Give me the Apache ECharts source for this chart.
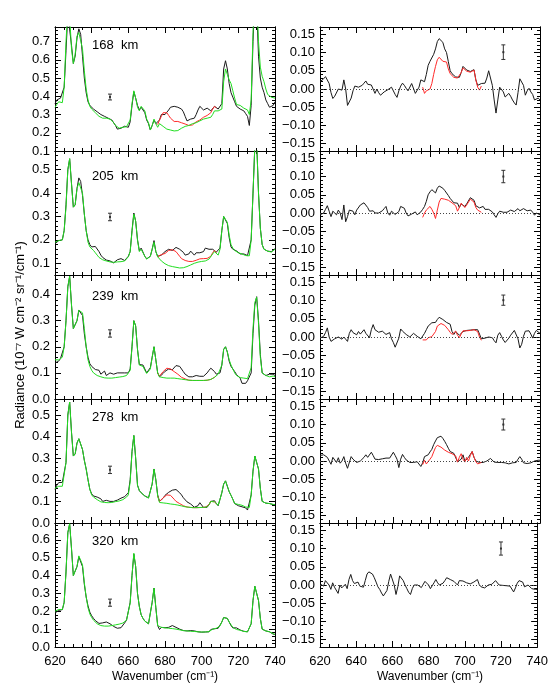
<!DOCTYPE html>
<html><head><meta charset="utf-8">
<script src="https://cdn.jsdelivr.net/npm/echarts@6/dist/echarts.min.js"></script>
<style>html,body{margin:0;padding:0;background:#fff}#c{width:551px;height:689px}</style>
</head><body><div id="c"></div>
<script>
// ---------------- DATA ----------------
const WN_START = 620;   // wavenumber of first sample, 1 cm-1 step
const RED_START = 676;  // first wavenumber of the model (red) curves
const altitudes = ['168  km', '205  km', '239  km', '278  km', '320  km'];
const xTicks = [620, 640, 660, 680, 700, 720, 740];
const leftTicks = [
  [0.1, 0.2, 0.3, 0.4, 0.5, 0.6, 0.7],
  [0.1, 0.2, 0.3, 0.4, 0.5],
  [0.0, 0.1, 0.2, 0.3, 0.4],
  [0.0, 0.1, 0.2, 0.3, 0.4, 0.5],
  [0.0, 0.1, 0.2, 0.3, 0.4, 0.5, 0.6]
];
const leftRanges = [[0.1, 0.78], [0.05, 0.58], [0.0, 0.475], [0.0, 0.574], [0.0, 0.694]];
const rightTicks = [-0.15, -0.10, -0.05, 0.00, 0.05, 0.10, 0.15];
const rightRange = [-0.17, 0.17];
// error bars: [wavenumber, centre, half-length]
const errLeft = [[650, 0.396, 0.016], [650, 0.298, 0.016], [650, 0.251, 0.014], [650, 0.246, 0.017], [650, 0.248, 0.02]];
const errRight = [[720, 0.101, 0.02], [720, 0.100, 0.017], [720, 0.101, 0.014], [720, 0.100, 0.015], [720, 0.100, 0.018]];

// ---- 168 km ----
const black168 = [0.36,0.38,0.39,0.39,0.39,0.45,0.65,0.85,0.86,0.68,0.58,0.62,0.72,0.77,0.74,0.62,0.50,0.42,0.37,0.35,
0.34,0.33,0.32,0.315,0.31,0.30,0.29,0.29,0.285,0.28,0.28,0.27,0.26,0.24,0.22,0.215,0.225,0.235,0.236,0.233,
0.23,0.26,0.35,0.425,0.39,0.35,0.325,0.34,0.35,0.31,0.27,0.25,0.215,0.24,0.27,0.25,0.245,0.27,0.30,0.305,
0.30,0.31,0.325,0.34,0.345,0.345,0.345,0.34,0.335,0.33,0.315,0.29,0.265,0.265,0.275,0.28,0.28,0.30,0.325,0.345,
0.335,0.325,0.33,0.335,0.325,0.32,0.33,0.345,0.335,0.33,0.33,0.36,0.55,0.595,0.55,0.47,0.42,0.395,0.37,0.345,
0.335,0.33,0.33,0.32,0.305,0.29,0.24,0.35,0.70,0.95,0.90,0.62,0.50,0.45,0.42,0.38,0.36,0.34,0.33,0.35,0.37];
const green168 = [0.34,0.355,0.37,0.365,0.365,0.45,0.70,0.88,0.84,0.66,0.58,0.63,0.73,0.75,0.74,0.66,0.54,0.44,0.38,0.345,
0.33,0.32,0.31,0.305,0.29,0.28,0.28,0.28,0.28,0.275,0.275,0.265,0.255,0.24,0.23,0.225,0.225,0.23,0.236,0.233,
0.235,0.27,0.36,0.43,0.39,0.34,0.32,0.345,0.355,0.32,0.275,0.255,0.215,0.24,0.275,0.25,0.23,0.25,0.255,0.235,
0.225,0.22,0.215,0.215,0.213,0.21,0.21,0.212,0.215,0.225,0.233,0.235,0.235,0.24,0.245,0.25,0.255,0.255,0.26,0.265,
0.27,0.275,0.28,0.28,0.275,0.285,0.30,0.32,0.33,0.32,0.315,0.33,0.48,0.55,0.52,0.49,0.47,0.43,0.39,0.355,
0.35,0.35,0.345,0.335,0.33,0.325,0.30,0.38,0.75,1.0,0.95,0.70,0.56,0.51,0.48,0.44,0.41,0.40,0.395,0.39,0.39];
const red168 = [0.245,0.27,0.29,0.31,0.305,0.31,0.295,0.28,0.27,0.262,0.26,0.262,0.262,0.255,0.25,0.248,0.245,0.24,0.24,0.243,
0.245,0.26,0.265,0.27,0.28,0.285,0.29,0.295,0.30,0.31,0.33,0.345,0.335];
const resid168 = [0.02,0.022,0.028,0.034,0.03,0.015,-0.01,-0.026,-0.02,-0.015,0.0,0.0,-0.003,0.025,0.0,-0.045,-0.05,-0.025,-0.005,0.008,
0.011,0.005,0.008,0.01,0.016,0.022,0.013,0.01,0.011,0.01,-0.012,0.0,-0.01,-0.017,-0.012,-0.008,-0.005,-0.002,0.0,0.005,
0.0,-0.015,-0.023,-0.005,0.008,0.016,0.01,0.002,-0.005,-0.008,0.015,0.02,-0.012,-0.01,0.005,0.025,0.027,0.02,0.04,0.065,
0.076,0.08,0.095,0.11,0.13,0.138,0.14,0.128,0.11,0.10,0.075,0.05,0.042,0.038,0.033,0.032,0.032,0.045,0.062,0.057,
0.052,0.05,0.048,0.052,0.053,0.025,0.01,0.013,0.015,0.016,0.016,0.03,0.05,0.045,0.01,-0.03,-0.066,-0.03,0.005,0.01,
-0.008,-0.022,-0.02,-0.012,-0.02,-0.03,-0.038,-0.044,-0.01,0.028,0.025,0.01,-0.017,-0.005,0.002,-0.008,-0.015,-0.03,-0.025,-0.025,-0.03];
const residRed168 = [0.005,-0.012,-0.005,-0.008,0.0,0.015,0.04,0.062,0.08,0.087,0.085,0.076,0.076,0.074,0.055,0.042,0.037,0.032,0.03,0.03,
0.032,0.045,0.058,0.053,0.049,0.047,0.046,0.05,0.052,0.025,0.005,-0.003,0.008];

// ---- 205 km ----
const black205 = [0.183,0.19,0.197,0.20,0.20,0.24,0.35,0.50,0.547,0.44,0.34,0.35,0.42,0.465,0.45,0.39,0.31,0.24,0.20,0.18,
0.17,0.172,0.172,0.165,0.15,0.135,0.125,0.118,0.114,0.112,0.11,0.108,0.102,0.105,0.115,0.118,0.12,0.115,0.112,0.12,
0.13,0.15,0.24,0.315,0.28,0.20,0.154,0.165,0.165,0.13,0.119,0.119,0.13,0.16,0.197,0.15,0.13,0.122,0.135,0.142,
0.15,0.155,0.16,0.16,0.155,0.162,0.168,0.165,0.16,0.155,0.147,0.135,0.133,0.14,0.152,0.148,0.135,0.145,0.152,0.145,
0.142,0.15,0.165,0.17,0.16,0.155,0.16,0.16,0.148,0.14,0.165,0.24,0.30,0.305,0.27,0.21,0.17,0.16,0.155,0.153,
0.145,0.14,0.142,0.14,0.135,0.133,0.135,0.20,0.40,0.60,0.62,0.40,0.25,0.18,0.16,0.155,0.152,0.15,0.15,0.155,0.162];
const green205 = [0.19,0.195,0.197,0.20,0.20,0.24,0.34,0.50,0.547,0.44,0.34,0.35,0.42,0.445,0.445,0.40,0.31,0.24,0.19,0.17,
0.165,0.155,0.145,0.135,0.125,0.118,0.115,0.112,0.11,0.108,0.106,0.105,0.104,0.105,0.106,0.105,0.107,0.108,0.11,0.118,
0.128,0.15,0.235,0.31,0.28,0.20,0.15,0.16,0.16,0.13,0.118,0.116,0.13,0.16,0.19,0.15,0.128,0.12,0.11,0.104,
0.098,0.094,0.09,0.088,0.086,0.085,0.083,0.081,0.08,0.08,0.081,0.083,0.086,0.09,0.093,0.096,0.10,0.103,0.105,0.107,
0.108,0.109,0.11,0.113,0.118,0.125,0.14,0.15,0.145,0.135,0.16,0.24,0.30,0.305,0.275,0.22,0.18,0.165,0.155,0.15,
0.145,0.14,0.14,0.135,0.133,0.13,0.132,0.20,0.40,0.60,0.62,0.40,0.25,0.18,0.16,0.155,0.152,0.15,0.148,0.152,0.16];
const red205 = [0.128,0.13,0.137,0.135,0.142,0.148,0.155,0.16,0.158,0.155,0.15,0.14,0.13,0.12,0.115,0.112,0.11,0.108,0.105,0.108,
0.11,0.113,0.117,0.119,0.12,0.12,0.12,0.121,0.123,0.13,0.145,0.155,0.145];
const resid205 = [-0.005,-0.005,0.0,0.01,0.02,0.005,-0.01,0.005,0.0,-0.005,0.008,0.0,-0.018,0.022,-0.024,-0.01,0.008,0.013,0.005,-0.005,
0.008,0.013,0.022,0.025,0.028,0.032,0.015,0.005,0.007,0.006,0.0,-0.001,0.0,0.0,0.006,0.012,0.018,0.0,-0.006,0.005,
0.008,-0.004,0.0,0.004,0.018,0.016,0.013,0.0,-0.008,-0.012,-0.003,0.002,0.003,-0.005,-0.006,0.003,0.01,0.018,0.032,0.05,
0.058,0.064,0.06,0.055,0.068,0.074,0.075,0.068,0.062,0.057,0.048,0.04,0.036,0.028,0.027,0.027,0.015,0.025,0.03,0.018,
0.025,0.03,0.042,0.04,0.035,0.02,0.016,0.014,0.015,0.018,0.01,0.008,0.01,0.006,0.003,-0.005,-0.012,-0.002,0.005,0.008,
0.002,-0.002,0.002,0.004,0.008,0.006,0.004,0.008,0.012,0.006,0.004,0.012,0.01,0.006,0.007,0.008,0.002,-0.006,0.0,0.004,-0.005];
const residRed205 = [-0.012,0.0,0.008,0.012,0.018,0.01,0.0,-0.015,0.008,0.03,0.04,0.037,0.038,0.04,0.035,0.032,0.028,0.025,0.02,0.005,
0.015,0.027,0.025,0.015,0.022,0.03,0.038,0.036,0.03,0.015,0.008,0.004,0.002];

// ---- 239 km ----
const black239 = [0.138,0.14,0.145,0.155,0.162,0.20,0.30,0.43,0.47,0.36,0.27,0.27,0.30,0.34,0.344,0.32,0.25,0.20,0.16,0.135,
0.125,0.119,0.113,0.115,0.11,0.095,0.10,0.107,0.09,0.095,0.10,0.098,0.095,0.096,0.10,0.099,0.10,0.10,0.10,0.098,
0.10,0.115,0.20,0.30,0.28,0.19,0.132,0.132,0.13,0.115,0.10,0.10,0.12,0.16,0.20,0.15,0.10,0.085,0.09,0.098,
0.106,0.11,0.115,0.12,0.112,0.115,0.128,0.132,0.125,0.119,0.105,0.095,0.09,0.085,0.08,0.085,0.087,0.09,0.09,0.087,
0.085,0.087,0.09,0.10,0.11,0.118,0.123,0.105,0.095,0.094,0.10,0.13,0.19,0.20,0.18,0.145,0.125,0.115,0.105,0.094,
0.09,0.08,0.06,0.058,0.06,0.07,0.065,0.10,0.25,0.36,0.392,0.30,0.17,0.10,0.093,0.09,0.09,0.095,0.10,0.095,0.09];
const green239 = [0.15,0.15,0.15,0.155,0.16,0.20,0.30,0.43,0.47,0.36,0.27,0.27,0.30,0.34,0.345,0.33,0.27,0.20,0.15,0.125,
0.11,0.10,0.095,0.09,0.087,0.085,0.083,0.081,0.08,0.08,0.08,0.08,0.081,0.082,0.083,0.084,0.085,0.086,0.088,0.09,
0.095,0.11,0.20,0.30,0.28,0.19,0.13,0.13,0.125,0.11,0.098,0.097,0.115,0.16,0.20,0.15,0.10,0.085,0.083,0.082,
0.081,0.08,0.08,0.08,0.08,0.08,0.079,0.078,0.077,0.076,0.075,0.074,0.073,0.072,0.072,0.071,0.071,0.071,0.071,0.071,
0.071,0.071,0.072,0.072,0.073,0.075,0.078,0.083,0.09,0.095,0.10,0.13,0.19,0.20,0.18,0.15,0.13,0.115,0.10,0.09,
0.085,0.082,0.08,0.08,0.078,0.078,0.08,0.12,0.27,0.37,0.39,0.29,0.16,0.10,0.093,0.09,0.085,0.085,0.09,0.088,0.085];
const red239 = [0.10,0.088,0.095,0.105,0.112,0.118,0.118,0.115,0.11,0.105,0.10,0.095,0.088,0.083,0.08,0.077,0.074,0.072,0.072,0.071,
0.071,0.071,0.071,0.071,0.071,0.071,0.072,0.072,0.073,0.075,0.078,0.083,0.09];
const resid239 = [-0.003,-0.003,0.002,0.012,0.025,0.0,-0.012,-0.015,-0.005,0.0,0.0,-0.004,-0.006,0.0,-0.006,-0.012,0.01,0.02,0.012,0.008,
0.006,0.015,0.008,0.012,0.02,0.01,0.005,-0.002,0.02,0.034,0.02,0.015,0.013,0.015,0.016,0.012,0.007,0.01,0.012,-0.005,
-0.015,-0.028,-0.025,-0.003,0.022,0.016,0.012,0.007,0.003,0.0,0.004,0.01,0.01,0.002,-0.002,-0.005,0.0,0.01,0.02,0.03,
0.035,0.039,0.039,0.04,0.048,0.054,0.056,0.048,0.043,0.04,0.039,0.035,0.015,0.007,0.015,0.018,0.005,0.0,0.015,0.019,
0.018,0.018,0.019,0.02,0.02,0.016,0.02,0.008,-0.005,-0.008,-0.003,-0.003,0.0,0.002,-0.002,-0.01,-0.016,0.005,0.012,0.002,
-0.008,-0.015,-0.015,-0.003,0.005,0.01,0.018,0.015,-0.005,-0.03,-0.02,0.002,0.016,0.02,0.017,0.008,-0.003,0.01,0.018,0.015,0.01];
const residRed239 = [-0.008,-0.012,-0.008,-0.002,0.0,0.001,0.002,0.015,0.03,0.035,0.037,0.034,0.032,0.028,0.02,0.013,0.007,0.012,0.016,0.005,
-0.002,0.008,0.017,0.018,0.017,0.017,0.018,0.02,0.02,0.016,0.015,0.0,-0.009];

// ---- 278 km ----
const black278 = [0.156,0.175,0.187,0.19,0.188,0.18,0.28,0.50,0.56,0.42,0.31,0.32,0.37,0.39,0.385,0.34,0.29,0.25,0.20,0.156,
0.135,0.125,0.125,0.12,0.115,0.112,0.10,0.10,0.105,0.109,0.10,0.097,0.10,0.102,0.106,0.11,0.115,0.12,0.122,0.13,
0.14,0.20,0.33,0.405,0.30,0.175,0.15,0.14,0.133,0.125,0.12,0.117,0.11,0.18,0.25,0.20,0.13,0.10,0.105,0.115,
0.128,0.135,0.142,0.148,0.152,0.156,0.155,0.148,0.14,0.13,0.117,0.108,0.098,0.092,0.088,0.082,0.073,0.072,0.08,0.094,
0.085,0.072,0.075,0.073,0.085,0.10,0.106,0.103,0.09,0.08,0.11,0.14,0.18,0.195,0.17,0.145,0.128,0.11,0.09,0.083,
0.08,0.077,0.075,0.072,0.07,0.06,0.065,0.13,0.24,0.31,0.315,0.25,0.16,0.10,0.093,0.092,0.092,0.09,0.088,0.085,0.085];
const green278 = [0.16,0.165,0.17,0.172,0.17,0.175,0.28,0.50,0.56,0.42,0.31,0.32,0.37,0.39,0.385,0.34,0.29,0.25,0.20,0.155,
0.13,0.12,0.115,0.108,0.102,0.098,0.096,0.095,0.094,0.094,0.094,0.095,0.097,0.099,0.10,0.102,0.105,0.108,0.112,0.12,
0.13,0.19,0.33,0.405,0.30,0.175,0.15,0.14,0.133,0.125,0.12,0.115,0.11,0.18,0.25,0.20,0.125,0.095,0.094,0.093,
0.092,0.091,0.09,0.088,0.087,0.086,0.085,0.083,0.081,0.079,0.077,0.075,0.074,0.073,0.072,0.071,0.071,0.071,0.071,0.072,
0.072,0.072,0.073,0.075,0.085,0.10,0.103,0.098,0.09,0.082,0.11,0.14,0.18,0.195,0.17,0.145,0.128,0.11,0.09,0.088,
0.086,0.086,0.082,0.078,0.074,0.071,0.072,0.13,0.24,0.31,0.315,0.25,0.16,0.10,0.093,0.092,0.092,0.09,0.088,0.086,0.085];
const red278 = [0.125,0.10,0.108,0.117,0.125,0.13,0.133,0.128,0.12,0.11,0.10,0.095,0.09,0.085,0.08,0.076,0.074,0.073,0.072,0.071,
0.071,0.071,0.071,0.072,0.072,0.072,0.073,0.075,0.085,0.10,0.103,0.098,0.09];
const resid278 = [0.015,0.017,0.017,0.015,0.01,0.005,-0.009,0.01,0.012,-0.004,0.009,-0.006,0.0,0.012,-0.006,-0.02,-0.015,0.012,0.005,0.0,
-0.004,-0.004,0.0,0.003,0.01,0.017,0.01,0.008,0.024,0.015,0.005,0.002,0.004,0.006,0.006,0.007,0.008,0.012,0.008,0.01,
0.024,0.015,0.005,-0.018,0.005,0.018,0.01,0.003,0.0,-0.004,-0.004,-0.004,0.0,-0.002,-0.004,-0.015,-0.005,0.012,0.015,0.017,
0.025,0.032,0.045,0.055,0.064,0.069,0.068,0.062,0.054,0.045,0.035,0.026,0.022,0.021,0.02,-0.002,-0.006,0.005,0.017,0.0,
0.004,0.01,0.018,0.026,0.01,0.0,-0.004,-0.004,-0.004,-0.004,-0.001,0.0,0.004,0.007,0.002,-0.003,-0.006,-0.004,-0.003,-0.004,
-0.004,-0.005,-0.006,-0.008,-0.011,-0.005,0.0,-0.004,0.005,0.012,0.005,-0.005,-0.006,-0.007,-0.007,-0.005,-0.004,0.0,0.0,0.002,0.002];
const residRed278 = [-0.01,0.002,-0.008,-0.011,0.005,0.012,0.025,0.037,0.043,0.041,0.038,0.033,0.03,0.027,0.024,0.022,0.02,0.018,0.014,-0.003,
0.01,0.02,0.005,-0.003,0.01,0.0,0.015,0.026,0.01,-0.002,-0.008,-0.009,-0.004];

// ---- 320 km ----
const black320 = [0.19,0.20,0.205,0.208,0.209,0.25,0.42,0.64,0.69,0.55,0.40,0.39,0.45,0.505,0.50,0.45,0.35,0.28,0.23,0.195,
0.175,0.16,0.148,0.138,0.132,0.128,0.135,0.139,0.14,0.14,0.13,0.12,0.115,0.11,0.105,0.103,0.108,0.118,0.135,0.15,
0.16,0.25,0.40,0.52,0.45,0.30,0.228,0.18,0.16,0.145,0.135,0.13,0.14,0.25,0.33,0.22,0.12,0.098,0.11,0.11,
0.108,0.108,0.11,0.115,0.12,0.115,0.11,0.10,0.10,0.098,0.092,0.091,0.09,0.09,0.092,0.09,0.09,0.088,0.085,0.085,
0.083,0.085,0.084,0.083,0.085,0.098,0.108,0.102,0.10,0.105,0.115,0.14,0.165,0.176,0.16,0.14,0.12,0.107,0.105,0.107,
0.105,0.095,0.09,0.088,0.085,0.085,0.085,0.13,0.26,0.34,0.34,0.26,0.16,0.10,0.093,0.09,0.087,0.085,0.078,0.072,0.07];
const green320 = [0.20,0.205,0.21,0.21,0.21,0.25,0.42,0.64,0.69,0.55,0.40,0.39,0.45,0.51,0.51,0.46,0.36,0.28,0.22,0.185,
0.165,0.15,0.14,0.13,0.125,0.12,0.118,0.117,0.117,0.117,0.118,0.12,0.122,0.124,0.126,0.128,0.13,0.134,0.14,0.15,
0.155,0.245,0.40,0.525,0.45,0.30,0.225,0.18,0.16,0.145,0.135,0.13,0.14,0.25,0.33,0.22,0.12,0.11,0.11,0.108,
0.107,0.106,0.105,0.104,0.103,0.102,0.10,0.098,0.096,0.094,0.092,0.091,0.09,0.089,0.088,0.087,0.087,0.086,0.085,0.085,
0.084,0.084,0.084,0.084,0.086,0.095,0.10,0.102,0.105,0.108,0.118,0.14,0.165,0.175,0.16,0.14,0.125,0.11,0.10,0.098,
0.097,0.094,0.09,0.087,0.085,0.085,0.085,0.13,0.26,0.34,0.34,0.26,0.16,0.10,0.093,0.09,0.087,0.085,0.08,0.075,0.07];
const resid320 = [0.003,0.006,-0.003,0.012,0.017,0.0,-0.012,0.006,-0.006,-0.01,-0.023,0.0,-0.008,-0.005,0.002,-0.01,0.015,0.029,0.012,0.004,
0.008,0.008,-0.003,-0.008,-0.006,0.012,0.03,0.036,0.035,0.03,0.02,0.008,-0.005,-0.012,-0.022,-0.03,-0.032,-0.015,0.01,0.03,
0.034,0.0,-0.026,-0.005,0.025,0.03,0.012,0.0,-0.01,-0.02,-0.026,-0.01,0.0,0.002,0.0,-0.003,-0.007,-0.008,0.01,0.013,
0.0,-0.01,-0.005,0.006,0.015,0.006,0.0,-0.003,0.005,0.012,0.02,0.022,0.015,0.014,0.01,0.005,0.0,0.012,0.014,0.011,
0.008,0.006,0.005,0.003,0.001,0.008,0.013,0.015,0.001,-0.005,-0.01,-0.008,-0.003,0.0,0.002,0.002,0.005,0.012,0.017,0.0,
0.0,-0.001,-0.001,-0.002,-0.002,-0.003,-0.005,-0.019,-0.008,0.005,0.012,0.016,0.008,-0.005,-0.006,0.0,0.002,-0.01,-0.008,-0.012,-0.012];

// ---------------- BUILD ----------------
const rows = [
  {black: black168, green: green168, red: red168, resid: resid168, residRed: residRed168},
  {black: black205, green: green205, red: red205, resid: resid205, residRed: residRed205},
  {black: black239, green: green239, red: red239, resid: resid239, residRed: residRed239},
  {black: black278, green: green278, red: red278, resid: resid278, residRed: residRed278},
  {black: black320, green: green320, red: null, resid: resid320, residRed: null}
];
const toPairs = (start, arr) => arr.map((v, i) => [start + i, v]);

const FONT = 'Liberation Sans, Arial, Helvetica, sans-serif';
const INK = '#000';
const PANEL_TOP = 27, PANEL_H = 124;
const COLS = [{left: 55, width: 220}, {left: 320, width: 220}];

function minorList(min, max, step) {
  const out = [];
  const k0 = Math.ceil(min / step - 1e-9), k1 = Math.floor(max / step + 1e-9);
  for (let k = k0; k <= k1; k++) out.push(+(k * step).toFixed(6));
  return out;
}
const fmt = d => v => v.toFixed(d).replace('-', '\u2212');

const grids = [], xAxes = [], yAxes = [], series = [], graphics = [];

function errBar(xi, yi, data) {
  return {
    type: 'custom', xAxisIndex: xi, yAxisIndex: yi, data: data, z: 5, silent: true,
    renderItem: function (params, api) {
      const x = api.value(0), c = api.value(1), h = api.value(2);
      const t = api.coord([x, c + h]), b = api.coord([x, c - h]), m = api.coord([x, c]);
      const st = {stroke: '#333', lineWidth: 1};
      return {type: 'group', children: [
        {type: 'line', shape: {x1: t[0], y1: t[1], x2: b[0], y2: b[1]}, style: st},
        {type: 'line', shape: {x1: t[0] - 2, y1: t[1], x2: t[0] + 2, y2: t[1]}, style: st},
        {type: 'line', shape: {x1: b[0] - 2, y1: b[1], x2: b[0] + 2, y2: b[1]}, style: st},
        {type: 'rect', shape: {x: m[0] - 1, y: m[1] - 1, width: 2, height: 2}, style: {fill: '#333'}}
      ]};
    }
  };
}

for (let r = 0; r < 5; r++) {
  for (let c = 0; c < 2; c++) {
    const g = grids.length;
    grids.push({left: COLS[c].left, width: COLS[c].width, top: PANEL_TOP + r * PANEL_H, height: PANEL_H, containLabel: false});
    const bottom = r === 4;
    const xBase = {
      gridIndex: g, type: 'value', min: 620, max: 740, interval: 20,
      axisLine: {show: true, onZero: false, lineStyle: {color: INK, width: 1}},
      axisTick: {show: true, inside: true, length: 6, lineStyle: {color: INK}},
      minorTick: {show: true, splitNumber: 4, length: 3, lineStyle: {color: INK}},
      splitLine: {show: false}
    };
    const xb = xAxes.length;
    xAxes.push(Object.assign({}, xBase, {position: 'bottom',
      axisLabel: {show: bottom, margin: 8, color: INK, fontSize: 13, fontFamily: FONT,
        customValues: xTicks, formatter: v => String(Math.round(v))}}));
    xAxes.push(Object.assign({}, xBase, {position: 'top', axisLabel: {show: false}}));

    const range = c === 0 ? leftRanges[r] : rightRange;
    const ticks = c === 0 ? leftTicks[r] : rightTicks;
    const minorStep = c === 0 ? 0.02 : 0.01;
    const yBase = {
      gridIndex: g, type: 'value', min: range[0], max: range[1],
      axisLine: {show: true, onZero: false, lineStyle: {color: INK, width: 1}},
      splitLine: {show: false}
    };
    const yl = yAxes.length;
    yAxes.push(Object.assign({}, yBase, {position: 'left',
      axisTick: {show: true, inside: true, length: 6, customValues: ticks, lineStyle: {color: INK}},
      axisLabel: {show: true, margin: 5, color: INK, fontSize: 13, fontFamily: FONT,
        customValues: ticks, formatter: fmt(c === 0 ? 1 : 2)}}));
    yAxes.push(Object.assign({}, yBase, {position: 'left',
      axisTick: {show: true, inside: true, length: 3, customValues: minorList(range[0], range[1], minorStep), lineStyle: {color: INK}},
      axisLabel: {show: false}}));
    yAxes.push(Object.assign({}, yBase, {position: 'right',
      axisTick: {show: true, inside: true, length: 6, customValues: ticks, lineStyle: {color: INK}},
      axisLabel: {show: false}}));
    yAxes.push(Object.assign({}, yBase, {position: 'right',
      axisTick: {show: true, inside: true, length: 3, customValues: minorList(range[0], range[1], minorStep), lineStyle: {color: INK}},
      axisLabel: {show: false}}));

    const d = rows[r];
    const lineS = (data, color, z) => ({type: 'line', xAxisIndex: xb, yAxisIndex: yl, data: data,
      showSymbol: false, symbol: 'none', clip: true, z: z, silent: true, animation: false,
      lineStyle: {color: color, width: 1}});
    if (c === 0) {
      series.push(lineS(toPairs(WN_START, d.black), '#1a1a1a', 2));
      if (d.red) series.push(lineS(toPairs(RED_START, d.red), '#ff2a2a', 3));
      series.push(lineS(toPairs(WN_START, d.green), '#22dd22', 4));
      series.push(errBar(xb, yl, [errLeft[r]]));
      graphics.push({type: 'text', left: 92, top: [39, 170, 290, 411, 535][r],
        style: {text: altitudes[r], font: '13px ' + FONT, fill: INK}});
    } else {
      const blk = lineS(toPairs(WN_START, d.resid), '#1a1a1a', 3);
      blk.markLine = {silent: true, symbol: 'none', label: {show: false}, animation: false,
        lineStyle: {color: '#444', width: 1, type: [1, 2]}, data: [{yAxis: 0}]};
      series.push(blk);
      if (d.residRed) series.push(lineS(toPairs(RED_START, d.residRed), '#ff2a2a', 4));
      series.push(errBar(xb, yl, [errRight[r]]));
    }
  }
}

graphics.push({type: 'text', x: 165, y: 677, style: {text: 'Wavenumber (cm\u207B\u00B9)', font: '12px ' + FONT, fill: INK, textAlign: 'center', textVerticalAlign: 'middle'}});
graphics.push({type: 'text', x: 430, y: 677, style: {text: 'Wavenumber (cm\u207B\u00B9)', font: '12px ' + FONT, fill: INK, textAlign: 'center', textVerticalAlign: 'middle'}});
graphics.push({type: 'text', x: 20, y: 335, rotation: Math.PI / 2,
  style: {text: 'Radiance (10\u207B\u2077 W cm\u207B\u00B2 sr\u207B\u00B9/cm\u207B\u00B9)', font: '13px ' + FONT, fill: INK, textAlign: 'center', textVerticalAlign: 'middle'}});

const chart = echarts.init(document.getElementById('c'), null, {renderer: 'canvas'});
chart.setOption({
  backgroundColor: '#fff', animation: false,
  grid: grids, xAxis: xAxes, yAxis: yAxes, series: series, graphic: graphics
});
</script></body></html>
